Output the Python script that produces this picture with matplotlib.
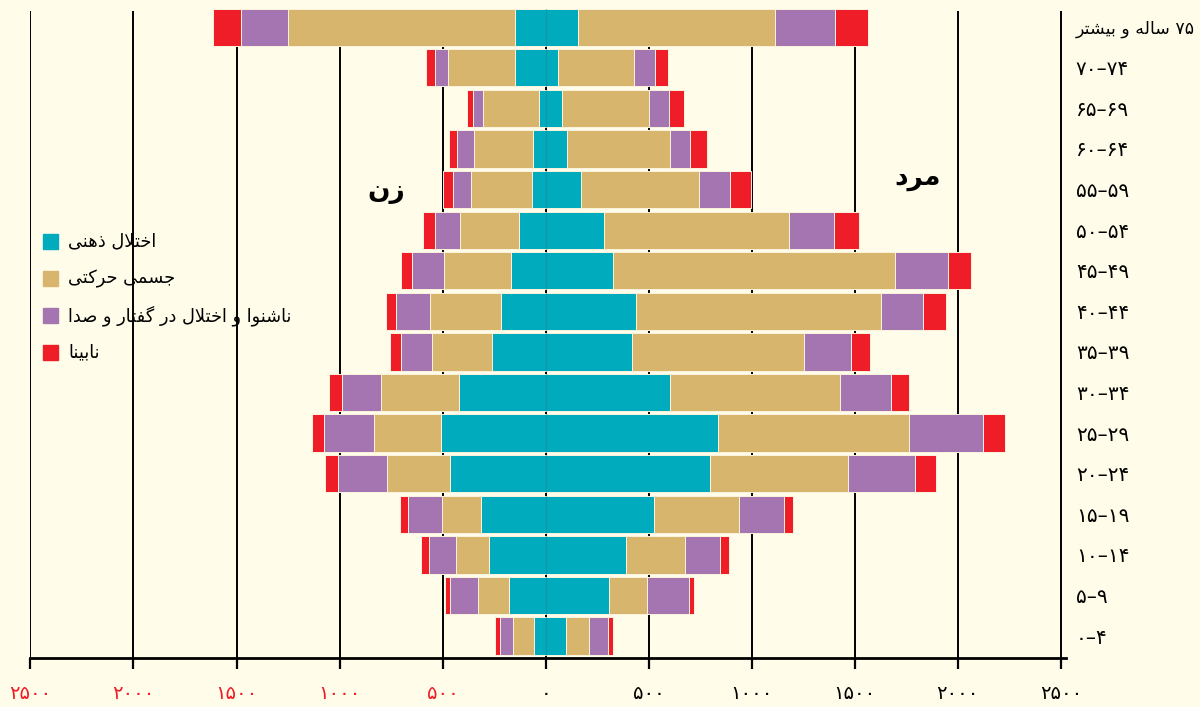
import re
import matplotlib
matplotlib.use('Agg')
import matplotlib.pyplot as plt
from matplotlib.patches import Rectangle

# age groups, bottom to top
ages = ['۰–۴', '۵–۹', '۱۰–۱۴', '۱۵–۱۹', '۲۰–۲۴', '۲۵–۲۹', '۳۰–۳۴', '۳۵–۳۹',
        '۴۰–۴۴', '۴۵–۴۹', '۵۰–۵۴', '۵۵–۵۹', '۶۰–۶۴', '۶۵–۶۹', '۷۰–۷۴', '۷۵ ساله و بیشتر']

female_mental = [57, 178, 277, 314, 464, 508, 420, 260, 217, 170, 131, 68, 62, 31, 149, 149]
female_physical = [102, 148, 158, 189, 306, 325, 378, 292, 344, 325, 286, 295, 286, 273, 325, 1100]
female_deaf = [63, 137, 130, 164, 240, 245, 192, 148, 164, 152, 118, 87, 81, 50, 63, 228]
female_blind = [26, 27, 39, 41, 61, 54, 61, 56, 49, 56, 61, 47, 40, 29, 45, 137]

male_mental = [98, 307, 390, 527, 795, 836, 603, 419, 438, 325, 283, 171, 103, 79, 60, 155]
male_physical = [112, 186, 286, 410, 674, 928, 825, 833, 1190, 1370, 898, 574, 500, 422, 369, 957]
male_deaf = [92, 201, 171, 219, 323, 359, 250, 229, 204, 259, 219, 149, 96, 96, 102, 294]
male_blind = [23, 27, 41, 45, 102, 104, 83, 95, 111, 111, 119, 100, 84, 76, 62, 160]

groups = ['اختلال ذهنی', 'جسمی حرکتی', 'ناشنوا و اختلال در گفتار و صدا', 'نابینا']
colors = ['#00abbd', '#d8b56c', '#a475b0', '#ee1d27']

xticks = [-2500, -2000, -1500, -1000, -500, 0, 500, 1000, 1500, 2000, 2500]
xticklabels = ['۲۵۰۰', '۲۰۰۰', '۱۵۰۰', '۱۰۰۰', '۵۰۰', '۰', '۵۰۰', '۱۰۰۰', '۱۵۰۰', '۲۰۰۰', '۲۵۰۰']

# --- minimal arabic/persian shaping (matplotlib has no text shaping) ---
FORMS = {
    'ا': ('\uFE8D', '\uFE8E'), 'د': ('\uFEA9', '\uFEAA'), 'ذ': ('\uFEAB', '\uFEAC'),
    'ر': ('\uFEAD', '\uFEAE'), 'ز': ('\uFEAF', '\uFEB0'), 'و': ('\uFEED', '\uFEEE'),
    'ژ': ('\uFB8A', '\uFB8B'),
    'ب': ('\uFE8F', '\uFE90', '\uFE91', '\uFE92'), 'ت': ('\uFE95', '\uFE96', '\uFE97', '\uFE98'),
    'ث': ('\uFE99', '\uFE9A', '\uFE9B', '\uFE9C'), 'ج': ('\uFE9D', '\uFE9E', '\uFE9F', '\uFEA0'),
    'ح': ('\uFEA1', '\uFEA2', '\uFEA3', '\uFEA4'), 'خ': ('\uFEA5', '\uFEA6', '\uFEA7', '\uFEA8'),
    'س': ('\uFEB1', '\uFEB2', '\uFEB3', '\uFEB4'), 'ش': ('\uFEB5', '\uFEB6', '\uFEB7', '\uFEB8'),
    'ص': ('\uFEB9', '\uFEBA', '\uFEBB', '\uFEBC'), 'ف': ('\uFED1', '\uFED2', '\uFED3', '\uFED4'),
    'ک': ('\uFB8E', '\uFB8F', '\uFB90', '\uFB91'), 'گ': ('\uFB92', '\uFB93', '\uFB94', '\uFB95'),
    'ل': ('\uFEDD', '\uFEDE', '\uFEDF', '\uFEE0'), 'م': ('\uFEE1', '\uFEE2', '\uFEE3', '\uFEE4'),
    'ن': ('\uFEE5', '\uFEE6', '\uFEE7', '\uFEE8'), 'ه': ('\uFEE9', '\uFEEA', '\uFEEB', '\uFEEC'),
    'ی': ('\uFBFC', '\uFBFD', '\uFBFE', '\uFBFF'), 'پ': ('\uFB56', '\uFB57', '\uFB58', '\uFB59'),
    'چ': ('\uFB7A', '\uFB7B', '\uFB7C', '\uFB7D'),
}


def fa(s):
    # only strings with letters need shaping + reordering
    if not any(c in FORMS for c in s):
        return s
    dual = lambda c: c in FORMS and len(FORMS[c]) == 4
    out = []
    i = 0
    while i < len(s):
        c = s[i]
        if c not in FORMS:
            out.append(c)
            i += 1
            continue
        jp = i > 0 and dual(s[i - 1])
        if c == 'ل' and i + 1 < len(s) and s[i + 1] == 'ا':
            out.append('\uFEFC' if jp else '\uFEFB')
            i += 2
            continue
        jn = dual(c) and i + 1 < len(s) and s[i + 1] in FORMS
        f = FORMS[c]
        if jp and jn:
            out.append(f[3])
        elif jp:
            out.append(f[1])
        elif jn:
            out.append(f[2])
        else:
            out.append(f[0])
        i += 1
    vis = ''.join(out)[::-1]
    return re.sub('[۰-۹0-9]+', lambda m: m.group(0)[::-1], vis)


bg = '#fffdea'
plt.rcParams['font.family'] = ['DejaVu Sans']

fig = plt.figure(figsize=(12, 7.07), dpi=100, facecolor=bg)
ax = fig.add_axes([0.02537, 0.0693, 0.8630, 0.9209])
ax.set_facecolor(bg)

y = list(range(len(ages)))
h = 0.92

female = [female_mental, female_physical, female_deaf, female_blind]
male = [male_mental, male_physical, male_deaf, male_blind]

left_f = [0] * len(ages)
left_m = [0] * len(ages)
for vals_f, vals_m, col in zip(female, male, colors):
    ax.barh(y, [-v for v in vals_f], left=left_f, height=h, color=col,
            edgecolor='#fbf3dc', linewidth=0.7, zorder=2)
    ax.barh(y, vals_m, left=left_m, height=h, color=col,
            edgecolor='#fbf3dc', linewidth=0.7, zorder=2)
    left_f = [a - b for a, b in zip(left_f, vals_f)]
    left_m = [a + b for a, b in zip(left_m, vals_m)]

# thin darker line through the middle of the teal bars
ax.vlines([0] * len(y), [v - h / 2 for v in y], [v + h / 2 for v in y],
          color='#1596a6', lw=0.9, zorder=3)

# vertical grid
ax.vlines(xticks, -0.54, 15.4, color='black', lw=1.4, zorder=0)

ax.set_xlim(-2500, 2525)
ax.set_ylim(-0.54, 15.5)

for s in ['top', 'left', 'right']:
    ax.spines[s].set_visible(False)
ax.spines['bottom'].set_linewidth(2.0)

ax.set_xticks(xticks)
ax.set_xticklabels(xticklabels, fontsize=14)
for lbl, v in zip(ax.get_xticklabels(), xticks):
    lbl.set_color('#ee1d27' if v < 0 else 'black')
ax.tick_params(axis='x', direction='out', length=8, width=1.6, pad=11)

ax.yaxis.tick_right()
ax.set_yticks(y)
ax.set_yticklabels([fa(a) for a in ages], fontsize=12.5)
for lbl, a in zip(ax.get_yticklabels(), ages):
    if not any(c in FORMS for c in a):
        lbl.set_fontsize(14.5)
ax.tick_params(axis='y', length=0, pad=7)

# legend
for k, (g, col) in enumerate(zip(groups, colors)):
    cy = 707 - (241.7 + 37 * k)
    fig.add_artist(Rectangle((43 / 1200, (cy - 7.5) / 707), 15 / 1200, 15 / 707,
                             transform=fig.transFigure, color=col))
    fig.text(68 / 1200, cy / 707, fa(g), fontsize=12.8, va='center', ha='left')

ax.text(386.5 / 1200, 1 - 191 / 707, fa('زن'), transform=fig.transFigure,
        fontsize=19, fontweight='bold', ha='center', va='center')
ax.text(917.6 / 1200, 1 - 178 / 707, fa('مرد'), transform=fig.transFigure,
        fontsize=19, fontweight='bold', ha='center', va='center')

fig.savefig('out.png', dpi=100, facecolor=bg)
